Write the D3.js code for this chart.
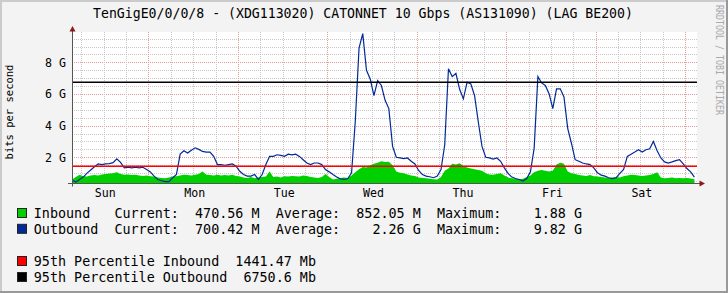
<!DOCTYPE html>
<html>
<head>
<meta charset="utf-8">
<title>TenGigE0/0/0/8 traffic</title>
<script src="https://d3js.org/d3.v7.min.js"></script>
<style>
  body { margin: 0; background: #f3f3f3; }
  svg text { font-family: "DejaVu Sans Mono", monospace; fill: #000; }
</style>
</head>
<body>
<div id="chart"></div>
<script>
"use strict"

// hourly samples, first one at Sun 03:30 (Gbps)
var outbound = [
  0.55,0.44,0.60,0.75,1.00,1.20,1.40,1.58,1.54,1.58,
  1.60,1.66,1.90,1.68,1.33,1.37,1.33,1.37,1.33,1.37,
  1.23,1.08,0.81,0.60,0.52,0.46,0.46,0.71,0.92,2.20,
  2.41,2.27,2.45,2.60,2.50,2.37,2.33,2.33,2.06,1.54,
  1.54,1.50,1.54,1.58,1.44,1.12,0.91,0.81,0.81,0.91,
  0.60,0.91,1.54,2.06,2.06,2.16,2.12,2.06,2.20,2.16,
  2.20,2.06,1.85,1.64,1.54,1.64,1.64,1.54,1.23,1.08,
  0.91,0.75,0.64,0.60,0.66,1.02,4.30,8.90,9.82,7.50,
  6.95,5.90,6.85,6.54,5.60,5.08,2.69,2.00,1.96,1.92,
  1.96,1.75,1.58,1.17,0.91,0.81,0.77,0.71,0.81,1.23,
  2.79,7.60,7.10,7.30,6.30,5.70,6.75,6.64,5.91,4.25,
  2.69,2.00,1.96,1.89,1.96,1.75,1.33,0.98,0.75,0.66,
  0.60,0.50,0.66,1.08,2.58,7.10,6.70,6.54,6.02,5.08,
  6.33,6.33,5.81,3.83,2.89,1.85,1.75,1.64,1.58,1.54,
  1.33,1.02,0.87,0.81,0.71,0.66,0.71,0.98,1.23,2.06,
  2.20,2.33,2.48,2.33,2.48,2.54,3.00,2.41,1.96,1.71,
  1.64,1.71,1.79,1.85,1.58,1.29,1.08,0.75
];

var inbound = [
  0.60,0.75,0.90,0.80,0.78,0.85,0.88,0.85,0.92,0.95,
  0.98,1.00,1.05,0.95,0.90,0.92,0.88,0.90,0.85,0.82,
  0.85,0.80,0.78,0.72,0.70,0.68,0.72,0.78,0.80,0.85,
  0.90,0.88,0.85,0.90,0.95,1.10,0.90,0.88,0.85,0.90,
  0.85,0.88,0.85,0.90,0.82,0.78,0.72,0.70,0.75,0.68,
  0.72,0.75,0.78,1.10,0.75,0.78,0.72,0.80,0.78,0.82,
  0.80,0.78,0.85,0.82,0.75,0.72,0.70,0.75,0.95,0.75,
  0.60,0.65,0.70,0.72,0.70,0.85,1.05,1.25,1.38,1.35,
  1.50,1.60,1.65,1.75,1.70,1.72,1.50,1.10,1.02,1.00,
  0.92,0.85,0.82,0.72,0.70,0.68,0.65,0.62,0.60,0.75,
  1.15,1.30,1.60,1.55,1.62,1.45,1.35,1.30,1.25,1.20,
  1.15,1.00,0.92,0.90,0.95,1.00,0.85,0.72,0.68,0.65,
  0.62,0.65,0.75,0.85,1.05,1.15,1.20,1.15,1.10,1.15,
  1.55,1.65,1.60,1.10,1.00,0.95,0.88,0.85,0.82,0.88,
  0.80,0.78,0.75,0.72,0.70,0.72,0.75,0.72,0.80,0.85,
  0.90,0.88,0.85,0.82,0.85,0.88,0.95,1.05,0.72,0.68,
  0.70,0.72,0.68,0.70,0.68,0.70,0.66,0.62
];

var days = ["Sun", "Mon", "Tue", "Wed", "Thu", "Fri", "Sat"];
var yTicks = [2, 4, 6, 8];

var seriesNames = ["Inbound", "Outbound"];
var seriesColors = ["#00cf00", "#002a97"];
var currentVals = ["470.56 M", "700.42 M"];
var averageVals = ["852.05 M", "2.26 G"];
var maximumVals = ["1.88 G", "9.82 G"];
var pctNames = ["95th Percentile Inbound", "95th Percentile Outbound"];
var pctVals = [1441.47, 6750.6];   // Mb
var pctColors = ["#ff0000", "#000000"];

var title = "TenGigE0/0/0/8 - (XDG113020) CATONNET 10 Gbps (AS131090) (LAG BE200)";

var W = 728, H = 293;
var plotL = 72, plotR = 697, plotT = 32, plotB = 183.5;

var weekStart = Date.UTC(2024, 2, 3);   // a Sunday, 00:00
var HOUR = 3600 * 1000;
var t0 = new Date(weekStart + 3.47 * HOUR),
    t1 = new Date(weekStart + 171.2 * HOUR);

var dados = outbound.map(function(v, i) {
  return { t: new Date(weekStart + (3.5 + i) * HOUR), out: v, inb: inbound[i] };
});

var x = d3.scaleUtc().domain([t0, t1]).range([plotL, plotR]);
var y = d3.scaleLinear().domain([0.345, 9.92]).range([plotB, plotT]);

var svg = d3.select("#chart").append("svg")
    .attr("width", W).attr("height", H);

// background + shaded border
svg.append("rect").attr("width", W).attr("height", H).attr("fill", "#f3f3f3");
svg.append("rect").attr("x", 0).attr("y", 0).attr("width", W).attr("height", 2).attr("fill", "#cbcbcb");
svg.append("rect").attr("x", 0).attr("y", 0).attr("width", 2).attr("height", H).attr("fill", "#cbcbcb");
svg.append("rect").attr("x", 0).attr("y", H - 2).attr("width", W).attr("height", 2).attr("fill", "#999");
svg.append("rect").attr("x", W - 2).attr("y", 0).attr("width", 2).attr("height", H).attr("fill", "#999");

// canvas
svg.append("rect")
    .attr("x", plotL).attr("y", plotT)
    .attr("width", plotR - plotL).attr("height", plotB - plotT)
    .attr("fill", "#fff");

// grid
var grid = svg.append("g").attr("stroke-width", 1).attr("stroke-dasharray", "1,1").attr("fill", "none");
var crisp = function(v) { return Math.round(v) + 0.5; };

var hLines = d3.range(0.5, 9.9, 0.5);
grid.selectAll("line.h")
  .data(hLines)
  .enter().append("line")
    .attr("x1", plotL).attr("x2", plotR)
    .attr("y1", function(d) { return crisp(y(d)); })
    .attr("y2", function(d) { return crisp(y(d)); })
    .attr("stroke", function(d) { return d % 2 === 0 ? "#e59a9a" : "#c8c8c8"; });

var vLines = d3.utcHour.every(6).range(t0, t1);
grid.selectAll("line.v")
  .data(vLines)
  .enter().append("line")
    .attr("y1", plotT).attr("y2", plotB)
    .attr("x1", function(d) { return crisp(x(d)); })
    .attr("x2", function(d) { return crisp(x(d)); })
    .attr("stroke", function(d) { return d.getUTCHours() === 0 ? "#e59a9a" : "#c8c8c8"; });

// data
svg.append("clipPath").attr("id", "plot")
  .append("rect").attr("x", plotL).attr("y", plotT)
  .attr("width", plotR - plotL).attr("height", plotB - plotT);

var plot = svg.append("g").attr("clip-path", "url(#plot)");

plot.append("path")
    .datum(dados)
    .attr("fill", seriesColors[0])
    .attr("d", d3.area()
      .x(function(d) { return x(d.t); })
      .y0(plotB)
      .y1(function(d) { return y(d.inb); }));

plot.append("path")
    .datum(dados)
    .attr("fill", "none")
    .attr("stroke", seriesColors[1])
    .attr("stroke-width", 1.2)
    .attr("d", d3.line()
      .x(function(d) { return x(d.t); })
      .y(function(d) { return y(d.out); }));

// 95th percentile rules
svg.selectAll("line.pct")
  .data(pctVals)
  .enter().append("line")
    .attr("x1", plotL).attr("x2", plotR)
    .attr("y1", function(d) { return y(d / 1000); })
    .attr("y2", function(d) { return y(d / 1000); })
    .attr("stroke", function(d, i) { return pctColors[i]; })
    .attr("stroke-width", 1.5);

// axes
var yAxis = svg.append("g")
    .attr("transform", "translate(" + plotL + ",0)")
    .call(d3.axisLeft(y).tickValues(yTicks).tickSize(0).tickPadding(6)
      .tickFormat(function(d) { return d + " G"; }));
yAxis.select(".domain").remove();
yAxis.selectAll("text").style("font-size", "11.6px").style("font-family", "DejaVu Sans Mono");

var noons = days.map(function(d, i) { return new Date(weekStart + (i * 24 + 12) * HOUR); });
var xAxis = svg.append("g")
    .attr("transform", "translate(1," + plotB + ")")
    .call(d3.axisBottom(x).tickValues(noons).tickSize(0)
      .tickFormat(function(d, i) { return days[i]; }));
xAxis.select(".domain").remove();
xAxis.selectAll("text").attr("y", 13.5).attr("dy", null)
    .style("font-size", "11.6px").style("font-family", "DejaVu Sans Mono");

svg.append("line").attr("x1", plotL + 0.5).attr("x2", plotL + 0.5)
    .attr("y1", plotB + 3).attr("y2", 30).attr("stroke", "#555");
svg.append("line").attr("x1", plotL - 4).attr("x2", plotR + 3)
    .attr("y1", Math.floor(plotB) + 0.5).attr("y2", Math.floor(plotB) + 0.5).attr("stroke", "#555");
svg.append("path").attr("d", "M69.5,31.5L75.5,31.5L72.5,26Z").attr("fill", "#8b1a1a");
svg.append("path").attr("d", "M699.5,180.5L699.5,186.5L705,183.5Z").attr("fill", "#8b1a1a");

// titles
svg.append("text").attr("x", 363).attr("y", 18.3).attr("text-anchor", "middle")
    .style("font-size", "13.2px").text(title);

svg.append("text").attr("transform", "translate(13,112) rotate(-90)")
    .attr("text-anchor", "middle").style("font-size", "10.5px").text("bits per second");

svg.append("text").attr("transform", "translate(716,5) rotate(90)")
    .attr("textLength", 110).attr("lengthAdjust", "spacingAndGlyphs")
    .style("font-size", "10px").style("fill", "#aaa")
    .text("RRDTOOL / TOBI OETIKER");

// legend
var legendRows = seriesNames.map(function(n, i) {
  return {
    color: seriesColors[i],
    text: (n + "          ").slice(0, 10) + "Current:  " + currentVals[i] + "  Average:  " +
          ("        " + averageVals[i]).slice(-8) + "  Maximum:  " + ("        " + maximumVals[i]).slice(-8)
  };
}).concat([null]).concat(pctNames.map(function(n, i) {
  return { color: pctColors[i], text: n + "  " + pctVals[i] + " Mb" };
}));

var baselines = [217.7, 233.5, 0, 265.7, 281.7];
var leg = svg.append("g");
legendRows.forEach(function(r, i) {
  if (!r) return;
  leg.append("rect").attr("x", 17.5).attr("y", baselines[i] - 9.2)
      .attr("width", 9).attr("height", 9)
      .attr("fill", r.color).attr("stroke", "#222");
  leg.append("text").attr("x", 33.8).attr("y", baselines[i])
      .style("font-size", "13.4px").style("white-space", "pre")
      .text(r.text);
});
</script>
</body>
</html>
